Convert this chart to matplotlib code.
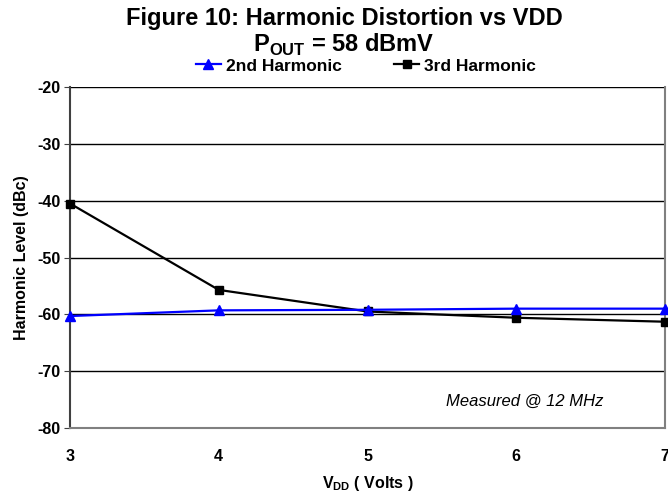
import numpy as np
import matplotlib.pyplot as plt

plt.rcParams['font.family'] = ['Liberation Sans', 'DejaVu Sans']
plt.rcParams['font.weight'] = 'bold'
plt.rcParams['axes.unicode_minus'] = False
plt.rcParams['mathtext.fontset'] = 'custom'
plt.rcParams['mathtext.rm'] = 'Liberation Sans:bold'
plt.rcParams['mathtext.bf'] = 'Liberation Sans:bold'

vdd = [3, 4, 5, 6, 7]
second_harm = [-60.3, -59.3, -59.2, -59.0, -59.0]
third_harm = [-40.5, -55.7, -59.5, -60.6, -61.3]
y_ticks = [-80, -70, -60, -50, -40, -30, -20]

fig = plt.figure(figsize=(6.68, 4.94), dpi=100)
ax = fig.add_axes([70/668, 1 - 428/494, (665 - 70)/668, (428 - 87)/494])

##Plot series##
ax.plot(vdd, second_harm, color='blue', marker='^', markersize=6.5, lw=1.6,
        label='2nd Harmonic', clip_on=False, zorder=4)
ax.plot(vdd, third_harm, color='black', marker='s', markersize=6, lw=1.6,
        label='3rd Harmonic', clip_on=False, zorder=3)

##Axes##
ax.set_xlim(3, 7)
ax.set_ylim(-80, -20)
ax.set_yticks(y_ticks)
ax.set_xticks(vdd)
ax.yaxis.grid(True, color='black', lw=1)
ax.set_axisbelow(True)
for s in ['left', 'right', 'bottom']:
    ax.spines[s].set_color('#808080')
    ax.spines[s].set_linewidth(1.5)
ax.spines['left'].set_color('#404040')
ax.spines['top'].set_visible(False)
ax.tick_params(axis='y', direction='out', length=4, color='#404040', labelsize=11.5, pad=3)
ax.tick_params(axis='x', length=0, labelsize=11.5, pad=15)

##Labels##
ax.set_ylabel('Harmonic Level (dBc)', fontsize=11.5, fontweight='bold', labelpad=6)
ax.set_xlabel(r'V$_{\mathrm{DD}}$ ( Volts )', fontsize=11.5, fontweight='bold', labelpad=7)
fig.text(0.515, 1 - 18/494, 'Figure 10: Harmonic Distortion vs VDD', ha='center', va='center',
         fontsize=17, fontweight='bold')
fig.text(0.515, 1 - 45/494, r'P$_{\mathrm{OUT}}$ = 58 dBmV', ha='center', va='center',
         fontsize=17, fontweight='bold')
ax.text(0.765, 0.077, 'Measured @ 12 MHz', transform=ax.transAxes, ha='center', va='center',
        fontsize=12, fontstyle='italic', fontweight='normal')

##Legend##
fig.legend(loc='center', bbox_to_anchor=(0.548, 1 - 66/494), ncol=2, frameon=False,
           fontsize=12.5, handlelength=1.45, handletextpad=0.3, columnspacing=3.0,
           borderpad=0)

fig.savefig('out.png', dpi=100)
